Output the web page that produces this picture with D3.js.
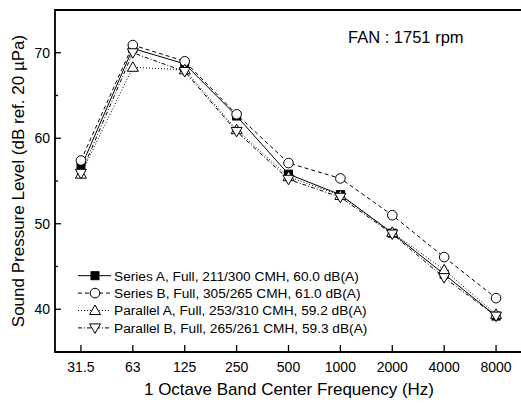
<!DOCTYPE html>
<html>
<head>
<meta charset="utf-8">
<script src="https://cdn.jsdelivr.net/npm/d3@7"></script>
<style>
  body { margin: 0; background: #fff; }
  svg { font-family: Arial, "Liberation Sans", sans-serif; }
</style>
</head>
<body>
<svg width="521" height="403"></svg>
<script>
// data
var freqs = ["31.5", "63", "125", "250", "500", "1000", "2000", "4000", "8000"];
var seriesA  = [56.6, 70.5, 68.7, 62.6, 55.8, 53.4, 48.9, 44.1, 39.2];
var seriesB  = [57.4, 70.9, 69.0, 62.8, 57.1, 55.3, 51.0, 46.1, 41.3];
var parallelA = [55.8, 68.3, 68.0, 61.0, 55.5, 53.3, 49.0, 44.6, 39.4];
var parallelB = [55.9, 70.0, 67.8, 60.8, 55.2, 53.1, 48.8, 43.7, 39.2];
var legendNames = [
  "Series A, Full, 211/300 CMH, 60.0 dB(A)",
  "Series B, Full, 305/265 CMH, 61.0 dB(A)",
  "Parallel A, Full, 253/310 CMH, 59.2 dB(A)",
  "Parallel B, Full, 265/261 CMH, 59.3 dB(A)"
];
var yTicks = [40, 50, 60, 70];
var yMinor = [35, 45, 55, 65, 75];

var svg = d3.select("svg");
var pL = 55, pT = 10, pR = 522, pB = 352;

var x = d3.scalePoint().domain(freqs).range([pL, pR]).padding(0.5);
var y = d3.scaleLinear().domain([35, 75]).range([pB, pT]);

var series = [
  { name: legendNames[0], values: seriesA, dash: null, sym: "square" },
  { name: legendNames[1], values: seriesB, dash: "4,3", sym: "circle" },
  { name: legendNames[2], values: parallelA, dash: "1,2", sym: "up" },
  { name: legendNames[3], values: parallelB, dash: "4,2,1,2", sym: "down" }
];

function drawSym(g, sym, cx, cy) {
  if (sym == "square") {
    g.append("rect").attr("x", cx - 4).attr("y", cy - 4).attr("width", 8).attr("height", 8)
      .attr("fill", "#000").attr("stroke", "#000");
  } else if (sym == "circle") {
    g.append("circle").attr("cx", cx).attr("cy", cy).attr("r", 4.8)
      .attr("fill", "#fff").attr("stroke", "#000").attr("stroke-width", 1);
  } else {
    var s = sym == "up" ? -1 : 1;
    var pts = [[cx, cy + s * 5.5], [cx - 5.5, cy - s * 4], [cx + 5.5, cy - s * 4]];
    g.append("polygon").attr("points", pts.map(function(p) { return p.join(","); }).join(" "))
      .attr("fill", "#fff").attr("stroke", "#000").attr("stroke-width", 1);
  }
}

var line = d3.line()
  .x(function(d, i) { return x(freqs[i]); })
  .y(function(d) { return y(d); });

// lines
series.forEach(function(s) {
  svg.append("path")
    .attr("d", line(s.values))
    .attr("fill", "none")
    .attr("stroke", "#000")
    .attr("stroke-width", 1)
    .attr("stroke-dasharray", s.dash);
});

// markers
var markers = svg.append("g");
series.forEach(function(s) {
  s.values.forEach(function(v, i) {
    drawSym(markers, s.sym, x(freqs[i]), y(v));
  });
});

// frame
svg.append("path")
  .attr("d", "M" + pR + "," + pT + "H" + pL + "V" + pB + "H" + pR)
  .attr("fill", "none").attr("stroke", "#000").attr("stroke-width", 1.8);

// y ticks
yTicks.forEach(function(t) {
  svg.append("line").attr("x1", pL).attr("x2", pL + 6).attr("y1", y(t)).attr("y2", y(t))
    .attr("stroke", "#000").attr("stroke-width", 1.3);
  svg.append("text").attr("x", pL - 5).attr("y", y(t)).attr("dy", "0.35em")
    .attr("text-anchor", "end").attr("font-size", 14).text(t);
});
yMinor.forEach(function(t) {
  svg.append("line").attr("x1", pL).attr("x2", pL + 3).attr("y1", y(t)).attr("y2", y(t))
    .attr("stroke", "#000").attr("stroke-width", 1.3);
});

// x ticks
freqs.forEach(function(f) {
  svg.append("line").attr("x1", x(f)).attr("x2", x(f)).attr("y1", pB).attr("y2", pB - 7)
    .attr("stroke", "#000").attr("stroke-width", 1.3);
  svg.append("text").attr("x", x(f)).attr("y", 372)
    .attr("text-anchor", "middle").attr("font-size", 14).text(f);
});

// axis titles
svg.append("text").attr("x", 289).attr("y", 395).attr("text-anchor", "middle")
  .attr("font-size", 17).text("1 Octave Band Center Frequency (Hz)");
svg.append("text").attr("transform", "translate(24," + ((pT + pB) / 2) + ") rotate(-90)")
  .attr("text-anchor", "middle").attr("font-size", 17).text("Sound Pressure Level (dB ref. 20 \u00b5Pa)");

svg.append("text").attr("x", 348).attr("y", 43).attr("font-size", 16.5).text("FAN : 1751 rpm");

// legend
var leg = svg.append("g");
series.forEach(function(s, i) {
  var ly = 275.7 + i * 17.4;
  leg.append("line").attr("x1", 78).attr("x2", 111).attr("y1", ly).attr("y2", ly)
    .attr("stroke", "#000").attr("stroke-width", 1).attr("stroke-dasharray", s.dash);
  drawSym(leg, s.sym, 95, ly);
  leg.append("text").attr("x", 114).attr("y", ly).attr("dy", "0.36em")
    .attr("font-size", 13.7).text(s.name);
});
</script>
</body>
</html>
